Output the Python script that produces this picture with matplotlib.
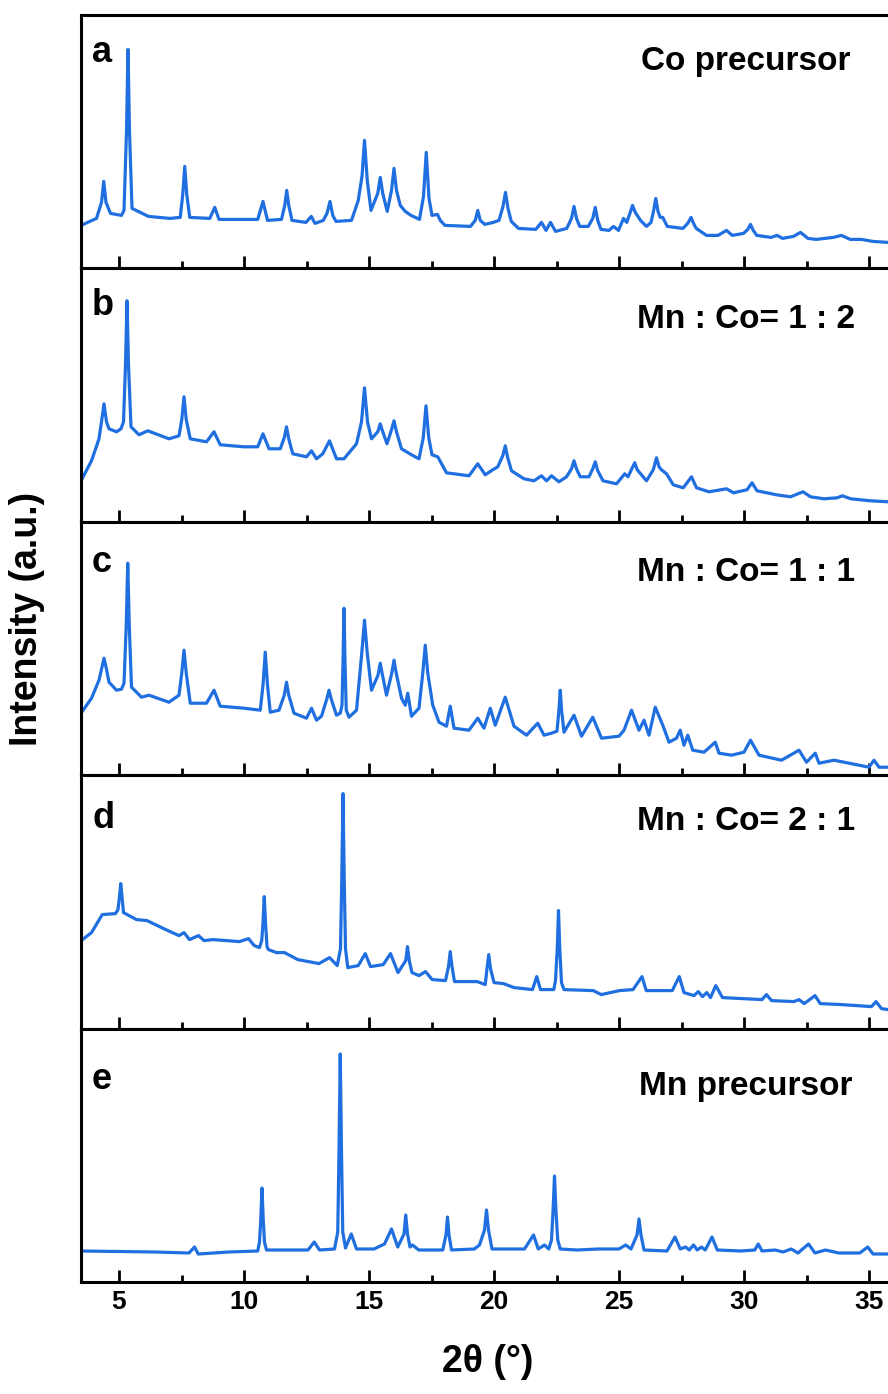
import matplotlib.pyplot as plt
from matplotlib.ticker import MultipleLocator

plt.rcParams['font.family'] = ['Liberation Sans', 'DejaVu Sans']
plt.rcParams['font.weight'] = 'bold'

# XRD patterns: (2theta in degrees, intensity in arbitrary units)
a_pts = [(3.48, 43), (4.1, 50), (4.3, 66), (4.39, 87), (4.48, 66), (4.66, 55), (5.1, 53),
         (5.2, 58), (5.3, 137), (5.36, 219), (5.42, 137), (5.52, 60), (6.18, 52), (7.04, 50),
         (7.45, 51), (7.55, 74), (7.63, 102), (7.71, 74), (7.83, 51), (8.63, 50), (8.83, 61),
         (9.0, 49), (10.55, 49), (10.76, 67), (10.94, 48), (11.5, 49), (11.63, 63), (11.71, 78),
         (11.79, 63), (11.92, 48), (12.48, 46), (12.69, 52), (12.84, 45), (13.17, 48), (13.32, 55),
         (13.44, 67), (13.55, 53), (13.68, 47), (14.3, 48), (14.57, 68), (14.72, 92), (14.82, 128),
         (14.93, 88), (15.08, 58), (15.35, 75), (15.45, 91), (15.55, 75), (15.73, 57), (15.9, 78),
         (16.0, 100), (16.1, 78), (16.25, 63), (16.45, 57), (16.68, 53), (17.02, 49), (17.18, 72),
         (17.29, 116), (17.4, 70), (17.52, 53), (17.74, 54), (17.85, 48), (18.04, 43), (19.06, 42),
         (19.25, 48), (19.35, 58), (19.45, 48), (19.63, 44), (19.97, 46), (20.2, 48), (20.36, 62),
         (20.46, 76), (20.56, 60), (20.69, 47), (20.98, 40), (21.67, 39), (21.9, 46), (22.08, 38),
         (22.26, 46), (22.46, 37), (22.91, 40), (23.1, 50), (23.2, 62), (23.3, 50), (23.43, 42),
         (23.77, 42), (23.95, 50), (24.05, 61), (24.15, 48), (24.28, 39), (24.6, 38), (24.78, 42),
         (24.98, 38), (25.18, 50), (25.31, 46), (25.45, 56), (25.54, 63), (25.65, 56), (25.86, 48),
         (26.1, 42), (26.28, 46), (26.38, 57), (26.47, 70), (26.56, 57), (26.65, 51), (26.75, 51),
         (26.93, 42), (27.56, 40), (27.75, 45), (27.88, 51), (28.0, 44), (28.09, 40), (28.5, 33),
         (28.96, 33), (29.3, 38), (29.53, 33), (29.98, 35), (30.15, 39), (30.26, 44), (30.37, 38),
         (30.51, 33), (31.08, 31), (31.33, 33), (31.54, 30), (31.98, 32), (32.26, 36), (32.56, 30),
         (32.89, 29), (33.57, 31), (33.9, 33), (34.25, 29), (34.7, 29), (35.15, 27), (35.76, 26)]

b_pts = [(3.48, 41), (3.9, 61), (4.2, 83), (4.3, 100), (4.4, 118), (4.5, 100), (4.6, 93),
         (4.9, 90), (5.08, 93), (5.18, 100), (5.26, 157), (5.32, 221), (5.38, 157), (5.48, 95),
         (5.8, 87), (6.15, 91), (7.0, 83), (7.4, 86), (7.51, 102), (7.6, 125), (7.69, 102),
         (7.85, 83), (8.5, 80), (8.8, 90), (9.05, 77), (10.0, 75), (10.55, 75), (10.76, 88),
         (11.0, 73), (11.45, 73), (11.61, 84), (11.7, 95), (11.79, 83), (11.95, 68), (12.5, 65),
         (12.7, 71), (12.9, 63), (13.15, 68), (13.42, 81), (13.7, 63), (14.0, 63), (14.5, 78),
         (14.7, 100), (14.82, 134), (14.94, 100), (15.1, 83), (15.35, 90), (15.45, 98), (15.55, 90),
         (15.72, 78), (15.9, 92), (16.0, 101), (16.1, 90), (16.3, 73), (16.7, 67), (17.0, 63),
         (17.17, 84), (17.28, 116), (17.39, 84), (17.52, 67), (17.75, 65), (18.1, 49), (19.0, 46),
         (19.35, 58), (19.65, 47), (19.95, 52), (20.15, 55), (20.35, 66), (20.45, 76), (20.55, 64),
         (20.7, 51), (21.2, 43), (21.6, 41), (21.9, 46), (22.1, 41), (22.3, 46), (22.6, 40),
         (22.9, 45), (23.1, 53), (23.2, 61), (23.3, 53), (23.45, 45), (23.8, 45), (23.95, 53),
         (24.05, 60), (24.15, 51), (24.36, 41), (24.9, 38), (25.23, 48), (25.36, 45), (25.53, 54),
         (25.63, 59), (25.73, 52), (26.1, 41), (26.37, 52), (26.5, 64), (26.6, 55), (26.7, 52),
         (26.9, 48), (27.17, 37), (27.57, 34), (27.9, 45), (28.1, 34), (28.6, 30), (29.3, 33),
         (29.58, 29), (30.12, 32), (30.32, 39), (30.52, 31), (31.3, 27), (31.86, 25), (32.36, 30),
         (32.66, 25), (33.2, 23), (33.73, 24), (33.93, 26), (34.27, 23), (35.07, 21), (35.76, 20)]

c_pts = [(3.48, 62), (3.9, 77), (4.2, 95), (4.3, 106), (4.4, 117), (4.5, 106), (4.6, 93),
         (4.9, 85), (5.1, 86), (5.2, 92), (5.29, 150), (5.35, 212), (5.41, 150), (5.5, 88),
         (5.9, 78), (6.2, 80), (7.0, 73), (7.4, 80), (7.51, 102), (7.6, 125), (7.69, 102),
         (7.85, 72), (8.5, 72), (8.8, 85), (9.05, 69), (10.0, 67), (10.65, 65), (10.76, 90),
         (10.85, 123), (10.94, 90), (11.05, 63), (11.4, 65), (11.61, 80), (11.7, 93), (11.79, 80),
         (12.0, 62), (12.5, 57), (12.7, 67), (12.9, 55), (13.1, 59), (13.31, 76), (13.4, 85),
         (13.49, 76), (13.7, 60), (13.85, 62), (13.92, 70), (13.96, 113), (14.0, 167),
         (14.04, 113), (14.09, 65), (14.2, 58), (14.5, 65), (14.71, 122), (14.82, 155),
         (14.93, 122), (15.1, 85), (15.36, 100), (15.45, 112), (15.54, 100), (15.7, 80),
         (15.91, 102), (16.0, 115), (16.09, 102), (16.3, 77), (16.45, 70), (16.55, 82), (16.7, 59),
         (17.0, 67), (17.15, 102), (17.25, 130), (17.35, 102), (17.55, 70), (17.8, 53), (18.1, 49),
         (18.25, 69), (18.4, 47), (19.0, 45), (19.35, 57), (19.6, 47), (19.85, 67), (20.05, 50),
         (20.45, 78), (20.8, 49), (21.3, 40), (21.75, 52), (22.0, 40), (22.3, 42), (22.52, 44),
         (22.6, 66), (22.65, 85), (22.7, 66), (22.8, 43), (23.2, 60), (23.5, 39), (23.95, 58),
         (24.3, 37), (25.0, 39), (25.2, 45), (25.5, 65), (25.8, 45), (26.0, 55), (26.2, 40),
         (26.45, 68), (26.75, 50), (27.0, 33), (27.3, 37), (27.45, 45), (27.6, 30), (27.75, 40),
         (27.95, 25), (28.4, 23), (28.85, 33), (29.0, 22), (29.5, 20), (30.0, 23), (30.26, 35),
         (30.6, 20), (31.5, 15), (32.2, 25), (32.5, 13), (32.85, 22), (33.0, 12), (33.6, 15),
         (34.2, 12), (35.0, 8), (35.2, 15), (35.4, 8), (35.76, 8)]

d_pts = [(3.49, 88), (3.9, 96), (4.33, 114), (4.86, 115), (4.96, 119), (5.02, 132), (5.07, 145),
         (5.12, 132), (5.18, 116), (5.7, 109), (6.12, 108), (6.87, 99), (7.4, 93), (7.6, 96),
         (7.82, 89), (8.18, 93), (8.4, 88), (8.76, 89), (9.82, 87), (10.18, 90), (10.41, 83),
         (10.62, 81), (10.71, 88), (10.76, 106), (10.81, 132), (10.86, 106), (10.92, 82),
         (10.98, 79), (11.3, 76), (11.62, 76), (12.15, 69), (13.0, 65), (13.42, 71), (13.73, 63),
         (13.86, 80), (13.91, 148), (13.96, 235), (14.01, 148), (14.06, 80), (14.15, 61),
         (14.57, 63), (14.85, 75), (15.06, 62), (15.57, 64), (15.86, 75), (16.16, 56), (16.47, 68),
         (16.54, 82), (16.61, 68), (16.72, 56), (17.0, 53), (17.26, 57), (17.53, 49), (18.06, 48),
         (18.18, 62), (18.25, 77), (18.32, 62), (18.42, 47), (19.33, 47), (19.65, 44), (19.72, 60),
         (19.79, 74), (19.86, 60), (20.0, 46), (20.38, 45), (20.8, 41), (21.54, 39), (21.71, 52),
         (21.86, 39), (22.39, 39), (22.46, 48), (22.53, 80), (22.58, 118), (22.63, 80),
         (22.7, 46), (22.8, 39), (23.97, 38), (24.29, 34), (25.02, 38), (25.56, 39), (25.92, 52),
         (26.09, 38), (27.13, 38), (27.41, 52), (27.6, 36), (28.0, 33), (28.17, 37), (28.34, 32),
         (28.51, 36), (28.66, 31), (28.87, 43), (29.14, 31), (30.72, 29), (30.9, 34), (31.1, 28),
         (32.0, 27), (32.2, 29), (32.41, 25), (32.84, 33), (33.05, 25), (33.9, 24), (35.1, 22),
         (35.28, 27), (35.5, 20), (35.76, 19)]

e_pts = [(3.48, 31), (6.44, 30), (7.8, 29), (8.02, 35), (8.17, 28), (9.4, 30), (10.55, 31),
         (10.62, 40), (10.67, 62), (10.72, 94), (10.77, 62), (10.82, 40), (10.9, 32), (12.56, 32),
         (12.81, 40), (13.02, 32), (13.62, 33), (13.75, 50), (13.8, 130), (13.85, 228),
         (13.9, 130), (13.95, 50), (14.06, 34), (14.29, 48), (14.5, 33), (15.2, 33), (15.62, 38),
         (15.9, 53), (16.15, 35), (16.4, 48), (16.47, 67), (16.54, 48), (16.64, 35), (16.74, 37),
         (16.99, 32), (17.95, 32), (18.08, 47), (18.14, 65), (18.2, 47), (18.3, 32), (19.21, 33),
         (19.42, 37), (19.62, 52), (19.7, 72), (19.78, 52), (19.92, 33), (21.22, 33), (21.58, 47),
         (21.77, 33), (22.02, 37), (22.19, 33), (22.3, 42), (22.36, 70), (22.42, 106), (22.48, 70),
         (22.55, 42), (22.65, 33), (23.33, 32), (24.17, 33), (25.0, 33), (25.27, 37), (25.48, 33),
         (25.72, 47), (25.8, 63), (25.88, 47), (26.0, 32), (26.92, 31), (27.24, 45), (27.45, 33),
         (27.66, 35), (27.81, 32), (27.98, 37), (28.13, 32), (28.3, 35), (28.45, 32), (28.72, 45),
         (28.93, 32), (29.88, 31), (30.43, 32), (30.57, 38), (30.72, 31), (31.25, 32), (31.56, 30),
         (31.89, 33), (32.16, 29), (32.58, 38), (32.84, 29), (33.26, 32), (33.79, 29), (34.63, 29),
         (34.95, 35), (35.16, 28), (35.76, 28)]

letters = ['a', 'b', 'c', 'd', 'e']
names = ['Co precursor', 'Mn : Co= 1 : 2', 'Mn : Co= 1 : 1', 'Mn : Co= 2 : 1', 'Mn precursor']
series = [a_pts, b_pts, c_pts, d_pts, e_pts]

W, H = 888, 1394
fig = plt.figure(figsize=(W / 100, H / 100), dpi=100)

left_px, top_px, bot_px = 81, 15, 1282
panel_h = (bot_px - top_px) / 5
letter_off = [47, 47, 50, 53, 60]
name_off = [55, 60, 59, 55, 66]

for i, pts in enumerate(series):
    xs = [p[0] for p in pts]
    ys = [p[1] for p in pts]
    y0 = top_px + (i + 1) * panel_h
    ax = fig.add_axes([left_px / W, 1 - y0 / H, 1 - left_px / W, panel_h / H])
    ax.plot(xs, ys, color='#1f6fe0', lw=2.3, solid_joinstyle='round')
    ax.set_xlim(3.48, 35.76)
    ax.set_ylim(0, panel_h)
    ax.set_yticks([])
    ax.xaxis.set_major_locator(MultipleLocator(5))
    ax.xaxis.set_minor_locator(MultipleLocator(2.5))
    ax.tick_params(axis='x', which='major', direction='in', length=9, width=2, labelsize=19, pad=6)
    ax.tick_params(axis='x', which='minor', direction='in', length=5, width=2)
    for s in ['left', 'top', 'bottom']:
        ax.spines[s].set_linewidth(2.2)
    ax.spines['right'].set_visible(False)
    if i < 4:
        ax.set_xticklabels([])
    else:
        for lab in ax.get_xticklabels():
            lab.set_fontweight('bold')
    ax.text(11 / (W - left_px), 1 - letter_off[i] / panel_h, letters[i], transform=ax.transAxes,
            fontsize=26, fontweight='bold', ha='left', va='baseline')
    ax.text(665 / (W - left_px), 1 - name_off[i] / panel_h, names[i], transform=ax.transAxes,
            fontsize=24, fontweight='bold', ha='center', va='baseline')

fig.text(27 / W, 1 - 619 / H, 'Intensity (a.u.)', rotation=90, fontsize=27,
         fontweight='bold', ha='center', va='center')
fig.text(488 / W, 1 - 1362 / H, '2θ (°)', fontsize=27, fontweight='bold',
         ha='center', va='center')

fig.savefig('out.png', dpi=100)
